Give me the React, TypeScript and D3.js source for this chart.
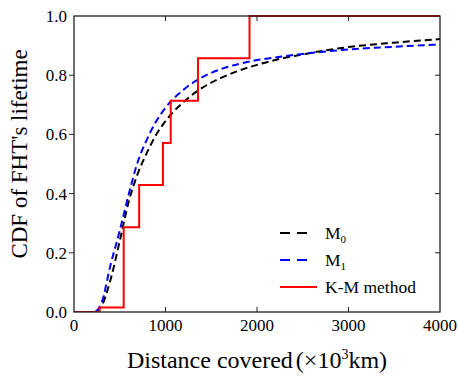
import * as d3 from "d3"

// distance (x10^3 km) sample points for the model curves
const distances = [0, 200, 250, 300, 400, 500, 600, 700, 800, 900, 1000, 1200, 1400, 1600, 1800, 2000, 2250, 2500, 2750, 3000, 3500, 4000]
const m0Values = [0, 0, 0.004, 0.02, 0.11, 0.24, 0.375, 0.47, 0.54, 0.6, 0.645, 0.71, 0.757, 0.79, 0.815, 0.835, 0.855, 0.87, 0.884, 0.895, 0.91, 0.922]
const m1Values = [0, 0, 0.005, 0.03, 0.16, 0.275, 0.4, 0.51, 0.585, 0.645, 0.69, 0.752, 0.793, 0.82, 0.838, 0.851, 0.862, 0.872, 0.88, 0.887, 0.896, 0.904]

// Kaplan-Meier step points
const kmDistances = [0, 280, 543, 712, 972, 1057, 1355, 1918, 4000]
const kmValues = [0, 0.015, 0.286, 0.429, 0.571, 0.714, 0.857, 1.0, 1.0]

const xTicks = [0, 1000, 2000, 3000, 4000]
const yTicks = [0, 0.2, 0.4, 0.6, 0.8, 1.0]

const W = 458
const H = 378
const margin = { top: 16, right: 18, bottom: 66, left: 74 }
const FONT = "'Liberation Serif', 'Times New Roman', serif"

export default function App() {
  const iw = W - margin.left - margin.right
  const ih = H - margin.top - margin.bottom

  const x = d3.scaleLinear().domain([0, 4000]).range([0, iw])
  const y = d3.scaleLinear().domain([0, 1]).range([ih, 0])

  const curve = d3.line<[number, number]>()
    .x(d => x(d[0]))
    .y(d => y(d[1]))
    .curve(d3.curveMonotoneX)

  const step = d3.line<[number, number]>()
    .x(d => x(d[0]))
    .y(d => y(d[1]))
    .curve(d3.curveStepAfter)

  const m0 = distances.map((d, i) => [d, m0Values[i]] as [number, number])
  const m1 = distances.map((d, i) => [d, m1Values[i]] as [number, number])
  const km = kmDistances.map((d, i) => [d, kmValues[i]] as [number, number])

  const axisColor = "#222"
  const tick = 5

  // legend positions (inside plot, bottom right)
  const lgX = 206
  const lgY = [217, 244, 271]

  return (
    <svg width={W} height={H} style={{ position: "absolute", left: 0, top: 0, background: "#fff" }} fontFamily={FONT}>
      <g transform={`translate(${margin.left},${margin.top})`}>
        <defs>
          <clipPath id="plot">
            <rect x={0} y={-2} width={iw} height={ih + 2} />
          </clipPath>
        </defs>

        <g clipPath="url(#plot)">
          <path d={curve(m0) ?? ""} fill="none" stroke="#000" strokeWidth={2} strokeDasharray="7,4" />
          <path d={curve(m1) ?? ""} fill="none" stroke="#0000ff" strokeWidth={2} strokeDasharray="7,4" />
          <path d={step(km) ?? ""} fill="none" stroke="#ff0000" strokeWidth={2} />
        </g>

        {/* frame */}
        <rect x={0} y={0} width={iw} height={ih} fill="none" stroke={axisColor} strokeWidth={1.3} />

        {/* x ticks: bottom and top, inside */}
        {xTicks.slice(1, -1).map(t => (
          <g key={"xt" + t}>
            <line x1={x(t)} x2={x(t)} y1={ih} y2={ih - tick} stroke={axisColor} strokeWidth={1} />
            <line x1={x(t)} x2={x(t)} y1={0} y2={tick} stroke={axisColor} strokeWidth={1} />
          </g>
        ))}
        {xTicks.map(t => (
          <text key={"xl" + t} x={x(t)} y={ih + 19} textAnchor="middle" fontSize={17} fill="#000">{t}</text>
        ))}

        {/* y ticks: left outside, right inside */}
        {yTicks.slice(1, -1).map(t => (
          <g key={"yt" + t}>
            <line x1={0} x2={-tick} y1={y(t)} y2={y(t)} stroke={axisColor} strokeWidth={1} />
            <line x1={iw} x2={iw - tick} y1={y(t)} y2={y(t)} stroke={axisColor} strokeWidth={1} />
          </g>
        ))}
        {yTicks.map(t => (
          <text key={"yl" + t} x={-7} y={y(t)} dy="0.35em" textAnchor="end" fontSize={17} fill="#000">{t.toFixed(1)}</text>
        ))}

        {/* legend */}
        <line x1={lgX} x2={lgX + 27} y1={lgY[0]} y2={lgY[0]} stroke="#000" strokeWidth={2} strokeDasharray="10,7" />
        <text x={lgX + 45} y={lgY[0]} dy="0.35em" fontSize={17.5}>M<tspan fontSize={11} dy="4">0</tspan></text>
        <line x1={lgX} x2={lgX + 27} y1={lgY[1]} y2={lgY[1]} stroke="#0000ff" strokeWidth={2} strokeDasharray="10,7" />
        <text x={lgX + 45} y={lgY[1]} dy="0.35em" fontSize={17.5}>M<tspan fontSize={11} dy="4">1</tspan></text>
        <line x1={lgX} x2={lgX + 37} y1={lgY[2]} y2={lgY[2]} stroke="#ff0000" strokeWidth={2} />
        <text x={lgX + 45} y={lgY[2]} dy="0.35em" fontSize={17.5}>K-M method</text>
      </g>

      {/* axis titles */}
      <text x={margin.left + iw / 2} y={368} textAnchor="middle" fontSize={24} fill="#000">
        Distance covered<tspan dx="3">(×10</tspan><tspan fontSize={14} dy="-9">3</tspan><tspan dy="9">km)</tspan>
      </text>
      <text transform={`translate(27,154) rotate(-90)`} textAnchor="middle" fontSize={23} fill="#000">
        CDF of FHT's lifetime
      </text>
    </svg>
  )
}
